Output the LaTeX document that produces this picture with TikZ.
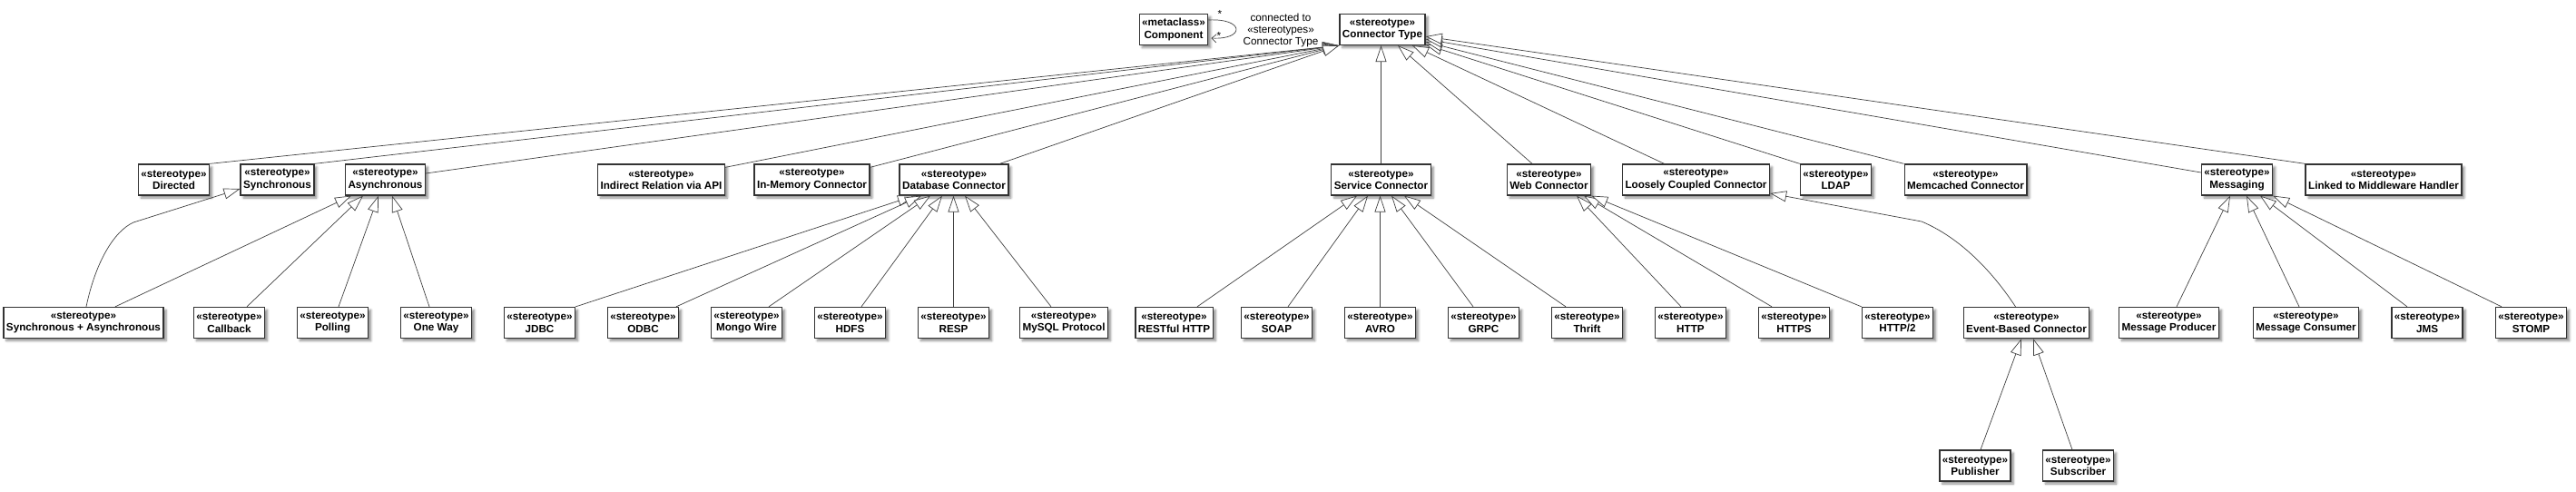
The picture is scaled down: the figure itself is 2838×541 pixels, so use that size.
\documentclass[tikz,border=0pt]{standalone}
\usepackage{fontspec}
\setmainfont{Liberation Sans}
\usetikzlibrary{arrows.meta,shadows.blur}

\begin{document}
\begin{tikzpicture}[x=1pt,y=-1pt,
    stereo/.style={draw=black!80,line width=1.3pt,fill=white,align=center,
        font=\fontsize{11.7}{13.5}\selectfont\bfseries,inner xsep=3pt,inner ysep=0pt,minimum height=34pt,
        blur shadow={shadow xshift=3pt,shadow yshift=-3pt,shadow blur steps=5,shadow blur radius=2.5pt,shadow opacity=45}},
    ext/.style={draw=black!75,line width=0.7pt,-{Triangle[open,length=18pt,width=12pt,fill=white]}},
    note/.style={font=\fontsize{11.7}{13}\selectfont,align=center}]
    \useasboundingbox (0,0) rectangle (2838,541);

    \node[stereo] (Component) at (1293,32.5) {«metaclass»\\Component};
    \node[stereo] (ConnectorType) at (1523,32.5) {«stereotype»\\Connector Type};
    \node[note] (Label) at (1411,33) {connected to\\«stereotypes»\\Connector Type};
    \node[note] (StarA) at (1344,15) {*};
    \node[note] (StarB) at (1343,39) {*};

    \node[stereo] (Directed) at (191.5,198) {«stereotype»\\Directed};
    \node[stereo] (Synchronous) at (305.5,198) {«stereotype»\\Synchronous};
    \node[stereo] (Asynchronous) at (424.5,198) {«stereotype»\\Asynchronous};
    \node[stereo] (Indirect) at (728.5,198) {«stereotype»\\Indirect Relation via API};
    \node[stereo] (InMemory) at (894.5,198) {«stereotype»\\In-Memory Connector};
    \node[stereo] (Database) at (1051,198) {«stereotype»\\Database Connector};
    \node[stereo] (Service) at (1521.5,198) {«stereotype»\\Service Connector};
    \node[stereo] (Web) at (1706.5,198) {«stereotype»\\Web Connector};
    \node[stereo] (Loosely) at (1868.5,198) {«stereotype»\\Loosely Coupled Connector};
    \node[stereo] (LDAP) at (2022.5,198) {«stereotype»\\LDAP};
    \node[stereo] (Memcached) at (2165.5,198) {«stereotype»\\Memcached Connector};
    \node[stereo] (Messaging) at (2464.5,198) {«stereotype»\\Messaging};
    \node[stereo] (Middleware) at (2626,198) {«stereotype»\\Linked to Middleware Handler};

    \node[stereo] (SyncAsync) at (92,355.5) {«stereotype»\\Synchronous + Asynchronous};
    \node[stereo] (Callback) at (252.5,355.5) {«stereotype»\\Callback};
    \node[stereo] (Polling) at (366.5,355.5) {«stereotype»\\Polling};
    \node[stereo] (OneWay) at (480.5,355.5) {«stereotype»\\One Way};
    \node[stereo] (JDBC) at (594.5,355.5) {«stereotype»\\JDBC};
    \node[stereo] (ODBC) at (708.5,355.5) {«stereotype»\\ODBC};
    \node[stereo] (MongoWire) at (822.5,355.5) {«stereotype»\\Mongo Wire};
    \node[stereo] (HDFS) at (936.5,355.5) {«stereotype»\\HDFS};
    \node[stereo] (RESP) at (1050.5,355.5) {«stereotype»\\RESP};
    \node[stereo] (MySQL) at (1172,355.5) {«stereotype»\\MySQL Protocol};
    \node[stereo] (RESTful) at (1293.5,355.5) {«stereotype»\\RESTful HTTP};
    \node[stereo] (SOAP) at (1406.5,355.5) {«stereotype»\\SOAP};
    \node[stereo] (AVRO) at (1520.5,355.5) {«stereotype»\\AVRO};
    \node[stereo] (GRPC) at (1634.5,355.5) {«stereotype»\\GRPC};
    \node[stereo] (Thrift) at (1748.5,355.5) {«stereotype»\\Thrift};
    \node[stereo] (HTTP) at (1862.5,355.5) {«stereotype»\\HTTP};
    \node[stereo] (HTTPS) at (1976.5,355.5) {«stereotype»\\HTTPS};
    \node[stereo] (HTTPtwo) at (2090.5,355.5) {«stereotype»\\HTTP/2};
    \node[stereo] (EventBased) at (2232.5,355.5) {«stereotype»\\Event-Based Connector};
    \node[stereo] (Producer) at (2389.5,355.5) {«stereotype»\\Message Producer};
    \node[stereo] (Consumer) at (2540.5,355.5) {«stereotype»\\Message Consumer};
    \node[stereo] (JMS) at (2674,355.5) {«stereotype»\\JMS};
    \node[stereo] (STOMP) at (2788.5,355.5) {«stereotype»\\STOMP};

    \node[stereo] (Publisher) at (2176,513) {«stereotype»\\Publisher};
    \node[stereo] (Subscriber) at (2289.5,513) {«stereotype»\\Subscriber};

    \coordinate (SyncBend) at (147,245);
    \coordinate (EventBend) at (2117,244);

    % self association
    \draw[draw=black!75,line width=0.7pt,-{Straight Barb[length=5pt,width=9pt]}]
        ([yshift=10.5pt]Component.east) .. controls +(40,-2) and +(37,2) .. ([yshift=-9.5pt,xshift=3pt]Component.east);

    \begin{scope}[every path/.style={ext}]
       \draw (Directed.north east) -- (ConnectorType.south west);
       \draw (Synchronous.north east) -- (ConnectorType.south west);
       \draw ([yshift=7pt]Asynchronous.east) -- (ConnectorType.south west);
       \draw ([yshift=-4pt]Indirect.north east) -- (ConnectorType.south west);
       \draw ([yshift=-4pt]InMemory.north east) -- (ConnectorType.south west);
       \draw ([xshift=-10pt]Database.north east) -- (ConnectorType.south west);
       \draw (Service.north) -- (Service.north |- ConnectorType.south);
       \draw ([xshift=-18.5pt]Web.north) -- ([xshift=17pt]ConnectorType.south);
       \draw ([xshift=-35pt]Loosely.north) -- ([xshift=33pt]ConnectorType.south);
       \draw (LDAP.north west) -- ([yshift=1pt]ConnectorType.south east);
       \draw (Memcached.north west) -- ([yshift=4pt]ConnectorType.south east);
       \draw ([yshift=8pt]Messaging.west) -- ([yshift=7pt]ConnectorType.south east);
       \draw (Middleware.north west) -- ([yshift=10pt]ConnectorType.south east);

       \draw ([xshift=3pt]SyncAsync.north) .. controls +(10,-48) and +(-22,10) .. (SyncBend) -- ([yshift=-10pt]Synchronous.west);
       \draw ([xshift=35pt]SyncAsync.north) -- ([xshift=-37.5pt]Asynchronous.south);
       \draw ([xshift=19.5pt]Callback.north) -- ([xshift=-24.5pt]Asynchronous.south);
       \draw ([xshift=6.5pt]Polling.north) -- ([xshift=-7.5pt]Asynchronous.south);
       \draw ([xshift=-7.5pt]OneWay.north) -- ([xshift=7.5pt]Asynchronous.south);

       \draw (JDBC.north east) -- ([xshift=-44pt]Database.south);
       \draw ([xshift=36.5pt]ODBC.north) -- ([xshift=-36pt]Database.south);
       \draw ([xshift=24.5pt]MongoWire.north) -- ([xshift=-26pt]Database.south);
       \draw ([xshift=12.5pt]HDFS.north) -- ([xshift=-13pt]Database.south);
       \draw (RESP.north) -- (RESP.north |- Database.south);
       \draw ([xshift=-14pt]MySQL.north) -- ([xshift=12pt]Database.south);

       \draw ([xshift=25.5pt]RESTful.north) -- ([xshift=-26.5pt]Service.south);
       \draw ([xshift=12.5pt]SOAP.north) -- ([xshift=-14.5pt]Service.south);
       \draw (AVRO.north) -- (AVRO.north |- Service.south);
       \draw ([xshift=-11.5pt]GRPC.north) -- ([xshift=11.5pt]Service.south);
       \draw ([xshift=-23.5pt]Thrift.north) -- ([xshift=25.5pt]Service.south);

       \draw ([xshift=-10.5pt]HTTP.north) -- ([xshift=30.5pt]Web.south);
       \draw ([xshift=-24.5pt]HTTPS.north) -- ([xshift=38.5pt]Web.south);
       \draw (HTTPtwo.north west) -- (Web.south east);

       \draw ([xshift=-12pt]EventBased.north) .. controls +(-25,-38) and +(43,18) .. (EventBend) -- ([yshift=-15pt]Loosely.east);

       \draw ([xshift=8.5pt]Producer.north) -- ([xshift=-7.5pt]Messaging.south);
       \draw ([xshift=-7.5pt]Consumer.north) -- ([xshift=10.5pt]Messaging.south);
       \draw ([xshift=-22pt]JMS.north) -- ([xshift=25.5pt]Messaging.south);
       \draw ([xshift=-32.5pt]STOMP.north) -- (Messaging.south east);

       \draw ([xshift=6pt]Publisher.north) -- ([xshift=-5.5pt]EventBased.south);
       \draw ([xshift=-6.5pt]Subscriber.north) -- ([xshift=7.5pt]EventBased.south);
    \end{scope}
\end{tikzpicture}
\end{document}
